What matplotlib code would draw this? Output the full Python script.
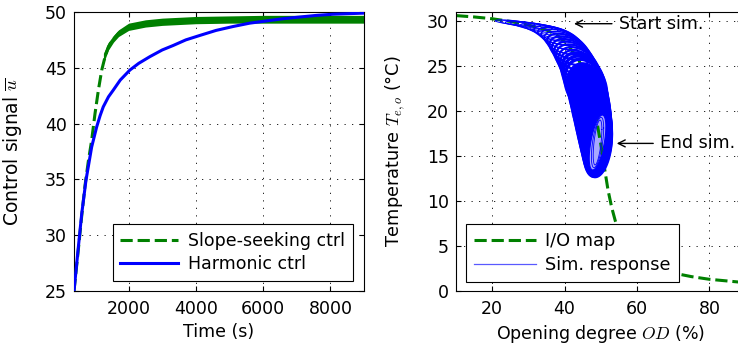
import numpy as np
import matplotlib
matplotlib.use("Agg")
import matplotlib.pyplot as plt
from matplotlib.lines import Line2D

plt.rcParams['font.family'] = ['DejaVu Sans']
plt.rcParams['mathtext.fontset'] = 'cm'
plt.rcParams['font.size'] = 12.5

# ---------------- data: left panel ----------------
slope_t = [375, 500, 600, 700, 800, 900, 1000, 1100, 1200, 1300, 1400, 1500, 1700, 2000,
           2500, 3000, 4000, 5000, 6000, 7000, 8000, 9000]
slope_u = [25.0, 28.6, 31.6, 34.4, 36.6, 38.5, 40.9, 43.0, 44.8, 46.0, 46.9, 47.4, 48.1, 48.7,
           48.95, 49.05, 49.25, 49.3, 49.35, 49.35, 49.35, 49.35]
band_t = [1250, 1400, 1550, 1700, 2000, 2500, 3000, 4000, 5000, 6000, 7000, 8000, 9000]
band_lo = [45.4, 46.6, 47.3, 47.8, 48.35, 48.65, 48.8, 48.95, 49.0, 49.0, 49.0, 49.0, 49.0]
band_hi = [46.3, 47.3, 47.9, 48.4, 49.0, 49.3, 49.45, 49.6, 49.65, 49.7, 49.7, 49.7, 49.7]

harm_t = [375, 503, 604, 730, 900, 1049, 1150, 1245, 1400, 1543, 1750, 2038, 2300, 2632,
          3000, 3325, 3700, 4118, 4600, 5107, 5600, 6097, 6600, 7088, 7600, 8078, 9000]
harm_u = [25.0, 28.9, 31.9, 34.9, 37.9, 39.7, 40.7, 41.5, 42.4, 43.0, 43.9, 44.8, 45.4, 46.0,
          46.6, 47.0, 47.5, 47.9, 48.35, 48.7, 49.0, 49.2, 49.4, 49.55, 49.7, 49.8, 49.9]

# ---------------- data: right panel ----------------
map_od = [10, 15, 20, 25, 30, 35, 38, 41, 44, 46, 48, 49, 50, 51, 52, 53, 54, 55, 57, 60,
          65, 70, 75, 80, 88]
map_t = [30.6, 30.45, 30.25, 29.95, 29.55, 29.0, 28.4, 27.3, 25.6, 23.6, 20.6, 18.6, 16.3,
         13.7, 11.2, 9.3, 7.8, 6.6, 5.0, 3.7, 2.6, 2.0, 1.6, 1.3, 1.0]

# simulated response loops: centre OD, centre T, OD half-swing, T half-swing, phase lag (deg)
loop_od = [25.5, 27.0, 28.5, 30.0, 31.5, 33.0, 34.5, 35.8, 37.0, 38.1, 39.1, 40.0, 40.8,
           41.5, 42.2, 42.8, 43.4, 44.0, 44.5,
           45.0, 45.45, 45.85, 46.25, 46.6, 46.95, 47.25, 47.55, 47.8, 48.05, 48.3, 48.5,
           48.7, 48.85, 49.0,
           49.05, 49.1, 49.1, 49.1, 49.1, 49.1, 49.1]
loop_t = [29.85, 29.75, 29.65, 29.55, 29.4, 29.25, 29.05, 28.85, 28.6, 28.3, 27.95, 27.55,
          27.15, 26.7, 26.25, 25.8, 25.35, 24.9, 24.4,
          23.9, 23.35, 22.8, 22.2, 21.6, 21.0, 20.4, 19.8, 19.25, 18.7, 18.2, 17.75,
          17.35, 17.0, 16.7,
          16.55, 16.5, 16.5, 16.5, 16.5, 16.5, 16.5]
loop_a = [4.65, 4.75, 4.85, 4.95, 5.05, 5.15, 5.25, 5.35, 5.45, 5.5, 5.55, 5.6, 5.6, 5.65,
          5.7, 5.7, 5.75, 5.75, 5.75,
          5.75, 5.75, 5.75, 5.7, 5.6, 5.5, 5.4, 5.25, 5.1, 4.95, 4.8, 4.65, 4.5, 4.35, 4.2,
          3.8, 3.45, 3.1, 2.75, 2.3, 1.7, 1.2]
loop_b = [0.28, 0.30, 0.33, 0.38, 0.45, 0.52, 0.62, 0.72, 0.85, 1.0, 1.15, 1.3, 1.45, 1.6,
          1.75, 1.9, 2.05, 2.2, 2.35,
          2.55, 2.75, 2.95, 3.15, 3.3, 3.45, 3.55, 3.65, 3.75, 3.85, 3.9, 3.95, 4.0, 4.05, 4.1,
          3.85, 3.65, 3.45, 3.25, 3.05, 2.8, 2.5]
loop_phi = [50, 50, 52, 52, 54, 54, 56, 58, 58, 60, 60, 62, 62, 64, 64, 66, 66, 68, 68,
            70, 72, 74, 76, 78, 80, 82, 84, 86, 88, 90, 92, 94, 96, 98,
            105, 110, 115, 120, 125, 125, 125]

GREEN = (0, 0.5, 0)
BLUE = (0, 0, 1)
HOLE = (0.66, 0.66, 1.0)

fig = plt.figure(figsize=(7.38, 3.48), dpi=100)
H = 348.0
W = 738.0
axL = fig.add_axes([74 / W, (H - 291) / H, 290 / W, 279 / H])
axR = fig.add_axes([456 / W, (H - 291) / H, 286 / W, 279 / H])

grid_kw = dict(color='black', linewidth=0.6, linestyle=(0, (1.5, 7.5)))

def style(ax):
    ax.set_axisbelow(True)
    ax.grid(True, **grid_kw)
    ax.tick_params(direction='in', length=3.5, width=0.8, top=True, right=True,
                   labelsize=12.5)
    ax.tick_params(axis='x', pad=6.5)
    ax.tick_params(axis='y', pad=5)
    for s in ax.spines.values():
        s.set_linewidth(0.8)

# ---- left panel ----
axL.fill_between(band_t, band_lo, band_hi, color=GREEN, linewidth=0, zorder=2)
axL.plot(slope_t, slope_u, color=GREEN, lw=2.2, dashes=(4, 1.6), zorder=3,
         label='Slope-seeking ctrl')
axL.plot(harm_t, harm_u, color=BLUE, lw=2.2, zorder=4, label='Harmonic ctrl')
axL.set_xlim(375, 9000)
axL.set_ylim(25, 50)
axL.set_xticks([2000, 4000, 6000, 8000])
axL.set_yticks([25, 30, 35, 40, 45, 50])
style(axL)
axL.set_xlabel('Time (s)', fontsize=12.5)
axL.set_ylabel(r'Control signal $\overline{u}$', fontsize=13.5)
axL.yaxis.set_label_coords(-0.172, 0.5)
axL.xaxis.set_label_coords(0.5, -0.115)
legL = axL.legend(loc='lower right', bbox_to_anchor=(0.962, 0.036), borderaxespad=0,
                  fancybox=False, edgecolor='black', framealpha=1, handlelength=3.3,
                  handletextpad=0.6, labelspacing=0.3, borderpad=0.45, fontsize=12.5)
legL.get_frame().set_linewidth(0.8)

# ---- right panel ----
axR.plot(map_od, map_t, color=GREEN, lw=2.2, dashes=(4, 1.6), zorder=2)
theta = np.linspace(0, 2 * np.pi, 300)
n_loops = len(loop_od)
hole_patch = None
for i in range(n_loops):
    ph = np.deg2rad(loop_phi[i])
    x = loop_od[i] + loop_a[i] * np.cos(theta)
    y = loop_t[i] - loop_b[i] * np.cos(theta - ph)
    if i < 8:
        axR.plot(x, y, color=BLUE, lw=0.7, zorder=3)
    elif i < 12:
        axR.plot(x, y, color=BLUE, lw=1.1, zorder=3)
    elif i < 19:
        axR.plot(x, y, color=BLUE, lw=1.6, zorder=3)
    elif i < 22:
        axR.plot(x, y, color=BLUE, lw=2.4, zorder=3)
    elif i < 34:
        axR.fill(x, y, color=BLUE, lw=1.0, zorder=3)
    elif i < 38:
        axR.plot(x, y, color=BLUE, lw=1.8, zorder=4)
    elif i == 38:
        hole_patch = axR.fill(x, y, facecolor=HOLE, edgecolor=BLUE, lw=0.8, zorder=4)[0]
    else:
        axR.plot(x, y, color=BLUE, lw=0.6, zorder=5)
# I/O map seen through the sparse final loops
inner_map = axR.plot(map_od, map_t, color=GREEN, lw=2.2, dashes=(4, 1.6), zorder=4.5)[0]
inner_map.set_clip_path(hole_patch)

axR.set_xlim(10, 10 + 286 / 3.62)
axR.set_ylim(0, 31)
axR.set_xticks([20, 40, 60, 80])
axR.set_yticks([0, 5, 10, 15, 20, 25, 30])
style(axR)
axR.set_xlabel(r'Opening degree $OD$ (%)', fontsize=12.5)
axR.set_ylabel(r'Temperature $T_{e,o}$ (°C)', fontsize=12.8)
axR.yaxis.set_label_coords(-0.172, 0.5)
axR.xaxis.set_label_coords(0.507, -0.115)

axR.annotate('Start sim.', xy=(42.6, 29.7), xytext=(55.0, 29.7), ha='left', va='center',
             fontsize=12.5,
             arrowprops=dict(arrowstyle='->', color='black', lw=1.0, shrinkA=3, shrinkB=0))
axR.annotate('End sim.', xy=(54.4, 16.4), xytext=(66.4, 16.4), ha='left', va='center',
             fontsize=12.5,
             arrowprops=dict(arrowstyle='->', color='black', lw=1.0, shrinkA=3, shrinkB=0))

handles = [Line2D([], [], color=GREEN, lw=2.2, dashes=(4, 1.6)),
           Line2D([], [], color=(0.35, 0.35, 1), lw=0.9)]
legR = axR.legend(handles, ['I/O map', 'Sim. response'], loc='lower left',
                  bbox_to_anchor=((466 - 456) / 286, 0.033), borderaxespad=0,
                  fancybox=False, edgecolor='black', framealpha=1, handlelength=3.5,
                  handletextpad=0.5, labelspacing=0.3, borderpad=0.45, fontsize=12.8)
legR.get_frame().set_linewidth(0.8)

fig.savefig('out.png', dpi=100)
